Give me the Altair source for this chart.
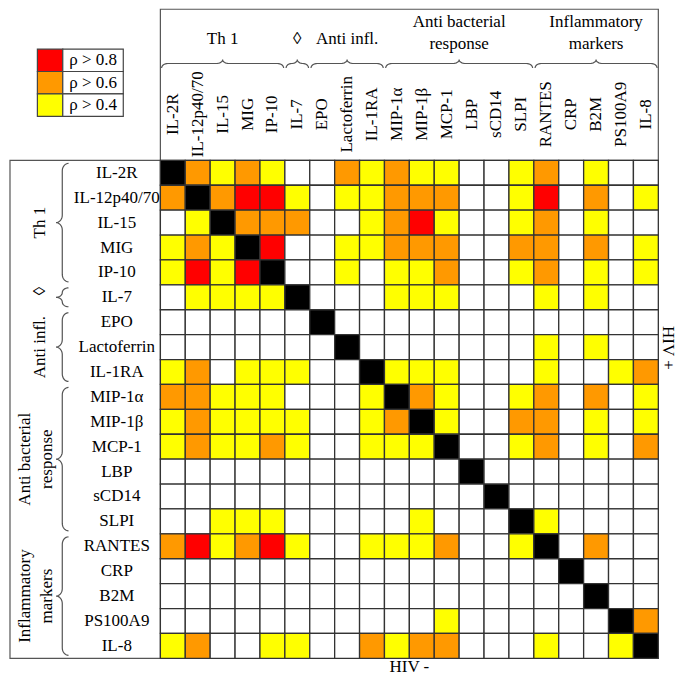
import altair as alt
import pandas as pd
import numpy as np

# ---------------- data ----------------
labels = ["IL-2R", "IL-12p40/70", "IL-15", "MIG", "IP-10", "IL-7", "EPO",
          "Lactoferrin", "IL-1RA", "MIP-1α", "MIP-1β", "MCP-1", "LBP", "sCD14",
          "SLPI", "RANTES", "CRP", "B2M", "PS100A9", "IL-8"]

# 0 = n.s., 1 = rho > 0.4, 2 = rho > 0.6, 3 = rho > 0.8, 4 = diagonal
# upper triangle: HIV+, lower triangle: HIV-
matrix = [
    [4, 2, 1, 2, 1, 0, 0, 2, 1, 2, 1, 1, 0, 0, 1, 2, 0, 1, 0, 0],
    [2, 4, 2, 3, 3, 1, 0, 1, 1, 2, 2, 2, 0, 0, 1, 3, 0, 2, 0, 1],
    [0, 1, 4, 2, 2, 2, 0, 0, 1, 2, 3, 1, 0, 0, 1, 2, 0, 1, 0, 0],
    [1, 2, 1, 4, 3, 0, 0, 1, 1, 2, 2, 2, 0, 0, 2, 2, 0, 2, 0, 1],
    [1, 3, 1, 3, 4, 0, 0, 1, 0, 1, 1, 2, 0, 0, 1, 2, 0, 1, 0, 1],
    [0, 1, 1, 1, 1, 4, 0, 0, 0, 1, 1, 1, 0, 0, 0, 1, 0, 1, 0, 0],
    [0, 0, 0, 0, 0, 0, 4, 0, 0, 0, 0, 0, 0, 0, 0, 0, 0, 0, 0, 0],
    [0, 0, 0, 0, 0, 0, 0, 4, 0, 0, 0, 0, 0, 0, 0, 1, 0, 1, 0, 0],
    [1, 2, 0, 1, 1, 1, 0, 0, 4, 1, 1, 1, 0, 0, 0, 1, 0, 0, 1, 2],
    [2, 2, 1, 1, 1, 0, 0, 0, 1, 4, 2, 1, 0, 0, 1, 2, 0, 2, 0, 1],
    [1, 2, 1, 1, 1, 1, 0, 0, 1, 2, 4, 1, 0, 0, 2, 2, 0, 1, 0, 1],
    [1, 2, 1, 1, 2, 1, 0, 0, 1, 1, 1, 4, 0, 0, 1, 2, 0, 1, 0, 2],
    [0, 0, 0, 0, 0, 0, 0, 0, 0, 0, 0, 0, 4, 0, 0, 0, 0, 0, 0, 0],
    [0, 0, 0, 0, 0, 0, 0, 0, 0, 0, 0, 0, 0, 4, 0, 0, 0, 0, 0, 0],
    [0, 0, 1, 1, 1, 0, 0, 0, 0, 0, 1, 0, 0, 0, 4, 1, 0, 0, 0, 0],
    [2, 3, 1, 2, 3, 1, 0, 0, 1, 1, 1, 2, 0, 0, 1, 4, 0, 2, 0, 0],
    [0, 0, 0, 0, 0, 0, 0, 0, 0, 0, 0, 0, 0, 0, 0, 0, 4, 0, 0, 0],
    [0, 0, 0, 0, 0, 0, 0, 0, 0, 0, 0, 0, 0, 0, 0, 0, 0, 4, 0, 0],
    [0, 0, 0, 0, 0, 0, 0, 0, 0, 0, 0, 1, 0, 0, 0, 0, 0, 0, 4, 2],
    [1, 2, 0, 0, 1, 1, 0, 0, 2, 1, 2, 2, 0, 0, 0, 1, 0, 0, 1, 4],
]

group_names = ["Th 1", "◊", "Anti infl.", "Anti bacterial\nresponse", "Inflammatory\nmarkers"]
group_start = [0, 5, 6, 9, 15]
group_end = [5, 6, 9, 15, 20]

legend_labels = ["ρ > 0.8", "ρ > 0.6", "ρ > 0.4"]
legend_levels = [3, 2, 1]

level_domain = [0, 1, 2, 3, 4]
level_colors = ["#FFFFFF", "#FFFF00", "#FF9900", "#FF0000", "#000000"]

# ---------------- layout (cell units) ----------------
X0, X1 = -6.12, 20.75
Y0, Y1 = -6.12, 20.71
N = len(labels)
FONT = "Liberation Serif"
ROW_LABEL_X = -1.75
COL_LABEL_Y = -1.85
TOP_SINGLE_Y, TOP_MULTI_Y = -4.86, -5.57
LEFT_SINGLE_X, LEFT_MULTI_X = -4.84, -5.45
TOP_BRACE_BASE, TOP_D1, TOP_D2, TOP_R, TOP_GAP = -3.71, 0.18, 0.34, 0.25, 0.05
LEFT_BRACE_BASE, LEFT_D1, LEFT_D2, LEFT_R, LEFT_GAP = -3.69, 0.25, 0.50, 0.3, 0.12

xs = alt.Scale(domain=[X0, X1], nice=False, zero=False)
ys = alt.Scale(domain=[Y0, Y1], nice=False, zero=False, reverse=True)
cs = alt.Scale(domain=level_domain, range=level_colors)


def X(f):
    return alt.X(f, type="quantitative", scale=xs, axis=None)


def Y(f):
    return alt.Y(f, type="quantitative", scale=ys, axis=None)


# cells
cells = pd.DataFrame([
    {"x0": j, "x1": j + 1, "y0": i, "y1": i + 1, "level": matrix[i][j]}
    for i in range(N) for j in range(N)
])
cell_layer = alt.Chart(cells).mark_rect(stroke="#333333", strokeWidth=1.3).encode(
    x=X("x0"), x2="x1", y=Y("y0"), y2="y1",
    color=alt.Color("level:O", scale=cs, legend=None),
)

# frame boxes
boxes = pd.DataFrame([
    {"x0": 0, "x1": N, "y0": -6.07, "y1": 0},
    {"x0": -6.04, "x1": 0, "y0": 0, "y1": N},
])
box_layer = alt.Chart(boxes).mark_rect(fill="transparent", stroke="#555555", strokeWidth=1.2).encode(
    x=X("x0"), x2="x1", y=Y("y0"), y2="y1"
)


# braces
def brace(a, b, d1, d2, r, n=9):
    mid = (a + b) / 2
    r = min(r, (mid - a) / 2)
    ts = np.linspace(0, np.pi / 2, n)
    pts = [(a + r - r * np.cos(t), d1 * np.sin(t)) for t in ts]
    pts += [(mid - r + r * np.sin(t), d2 - (d2 - d1) * np.cos(t)) for t in ts]
    pts += [(2 * mid - p, d) for p, d in reversed(pts)]
    return pts


brace_rows = []
for g, (s, e) in enumerate(zip(group_start, group_end)):
    for k, (p, d) in enumerate(brace(s + TOP_GAP, e - TOP_GAP, TOP_D1, TOP_D2, TOP_R)):
        brace_rows.append({"gid": f"t{g}", "idx": k, "x": p, "y": TOP_BRACE_BASE - d})
    for k, (p, d) in enumerate(brace(s + LEFT_GAP, e - LEFT_GAP, LEFT_D1, LEFT_D2, LEFT_R)):
        brace_rows.append({"gid": f"l{g}", "idx": k, "x": LEFT_BRACE_BASE - d, "y": p})
brace_layer = alt.Chart(pd.DataFrame(brace_rows)).mark_line(
    color="#555555", strokeWidth=1.2
).encode(x=X("x"), y=Y("y"), detail="gid:N", order="idx:Q")

# legend
leg = pd.DataFrame([
    {"x0": -4.94, "x1": -3.92, "xt1": -1.49, "y0": -4.47 + 0.9 * i, "y1": -3.57 + 0.9 * i,
     "yc": -4.02 + 0.9 * i, "xc": -2.70, "level": lv, "label": lb}
    for i, (lv, lb) in enumerate(zip(legend_levels, legend_labels))
])
leg_sw = alt.Chart(leg).mark_rect(stroke="#444444", strokeWidth=1.2).encode(
    x=X("x0"), x2="x1", y=Y("y0"), y2="y1",
    color=alt.Color("level:O", scale=cs, legend=None),
)
leg_box = alt.Chart(leg).mark_rect(fill="white", stroke="#444444", strokeWidth=1.2).encode(
    x=X("x1"), x2="xt1", y=Y("y0"), y2="y1"
)
leg_txt = alt.Chart(leg).mark_text(font=FONT, fontSize=17, align="center", baseline="middle").encode(
    x=X("xc"), y=Y("yc"), text="label:N"
)

# axis labels
rl = pd.DataFrame({"label": labels, "x": [ROW_LABEL_X] * N, "y": [i + 0.5 for i in range(N)]})
row_txt = alt.Chart(rl).mark_text(font=FONT, fontSize=17, align="center", baseline="middle").encode(
    x=X("x"), y=Y("y"), text="label:N"
)
cl = pd.DataFrame({"label": labels, "x": [i + 0.5 for i in range(N)], "y": [COL_LABEL_Y] * N})
col_txt = alt.Chart(cl).mark_text(font=FONT, fontSize=17, align="center", baseline="middle", angle=270).encode(
    x=X("x"), y=Y("y"), text="label:N"
)

# group labels
tg = pd.DataFrame({
    "label": group_names,
    "x": [(s + e) / 2 for s, e in zip(group_start, group_end)],
    "y": [TOP_MULTI_Y if "\n" in g else TOP_SINGLE_Y for g in group_names],
})
top_grp = alt.Chart(tg).mark_text(font=FONT, fontSize=17, align="center", baseline="middle",
                                  lineBreak="\n", lineHeight=22).encode(
    x=X("x"), y=Y("y"), text="label:N"
)
lg = pd.DataFrame({
    "label": group_names,
    "y": [(s + e) / 2 - (0.25 if g == "◊" else 0) for g, s, e in zip(group_names, group_start, group_end)],
    "x": [LEFT_MULTI_X if "\n" in g else LEFT_SINGLE_X for g in group_names],
})
left_grp = alt.Chart(lg).mark_text(font=FONT, fontSize=17, align="center", baseline="middle",
                                   lineBreak="\n", lineHeight=22, angle=270).encode(
    x=X("x"), y=Y("y"), text="label:N"
)

hiv = pd.DataFrame({"label": ["HIV +", "HIV -"], "x": [20.39, 10.0], "y": [7.53, 20.36]})
hiv_plus = alt.Chart(hiv.iloc[[0]]).mark_text(font=FONT, fontSize=17, align="center", baseline="middle",
                                               angle=90).encode(x=X("x"), y=Y("y"), text="label:N")
hiv_minus = alt.Chart(hiv.iloc[[1]]).mark_text(font=FONT, fontSize=17, align="center",
                                                baseline="middle").encode(x=X("x"), y=Y("y"), text="label:N")

chart = alt.layer(
    box_layer, cell_layer, brace_layer, leg_sw, leg_box, leg_txt,
    row_txt, col_txt, top_grp, left_grp, hiv_plus, hiv_minus
).properties(
    width=669, height=668, padding=0,
    autosize=alt.AutoSizeParams(type="none"),
    background="white",
).configure_view(strokeWidth=0)

chart.save("out.html", embed_options={"renderer": "svg", "actions": False})
